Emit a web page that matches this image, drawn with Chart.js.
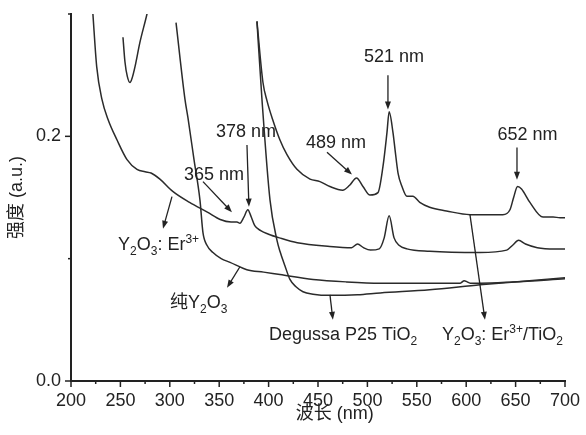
<!DOCTYPE html>
<html>
<head>
<meta charset="utf-8">
<script src="https://cdn.jsdelivr.net/npm/chart.js@4.4.1/dist/chart.umd.min.js"></script>
<style>
  html, body { margin:0; padding:0; background:#fff; }
</style>
</head>
<body>
<canvas id="c" width="586" height="435"></canvas>
<script>
// espectros (nm, intensidad a.u.)
const erX = [222, 226, 231.4, 237.4, 246.6, 256.7, 266.8, 275, 281, 290, 303, 320, 338, 351, 362, 368, 371, 375, 379, 382, 386, 392, 400, 411, 429, 462, 484, 490, 496, 503, 512, 517, 522, 527, 532, 540, 563, 614, 641, 647, 653, 660, 672, 690, 700]
const erY = [0.302, 0.257, 0.230, 0.214, 0.197, 0.181, 0.173, 0.171, 0.170, 0.165, 0.155, 0.146, 0.138, 0.132, 0.130, 0.130, 0.129, 0.134, 0.140, 0.135, 0.127, 0.123, 0.120, 0.117, 0.113, 0.110, 0.109, 0.112, 0.109, 0.107, 0.108, 0.117, 0.135, 0.117, 0.111, 0.108, 0.106, 0.105, 0.107, 0.111, 0.115, 0.112, 0.109, 0.108, 0.108]

const erTiX = [252.6, 254.6, 257, 259.7, 262, 264.8, 269.8, 276.9, 279, 330, 388.2, 394.3, 398.4, 404, 411.5, 418.6, 428.7, 441.9, 452, 462, 475, 482, 489, 495.5, 502.6, 510.7, 515.7, 519.8, 522, 525.9, 528, 531, 535, 540, 546, 553, 563, 580, 604, 625, 637, 644.3, 648, 652, 656, 664.5, 677.7, 688, 695, 700]
const erTiY = [0.281, 0.261, 0.249, 0.244, 0.248, 0.257, 0.277, 0.300, 0.308, null, 0.294, 0.244, 0.229, 0.214, 0.197, 0.185, 0.173, 0.165, 0.163, 0.159, 0.156, 0.160, 0.166, 0.159, 0.152, 0.154, 0.175, 0.203, 0.220, 0.203, 0.189, 0.170, 0.159, 0.151, 0.151, 0.146, 0.142, 0.139, 0.136, 0.136, 0.136, 0.140, 0.150, 0.159, 0.157, 0.146, 0.134, 0.134, 0.1335, 0.1335]

const pureX = [306.3, 315.4, 318.4, 324.5, 330.5, 333.6, 337.6, 343.7, 352, 361, 378, 395, 411.5, 445, 479, 513, 560, 594, 598, 601, 604, 614, 647, 700]
const pureY = [0.293, 0.230, 0.215, 0.181, 0.148, 0.121, 0.111, 0.105, 0.100, 0.097, 0.091, 0.089, 0.087, 0.083, 0.081, 0.080, 0.080, 0.080, 0.082, 0.081, 0.080, 0.080, 0.081, 0.0835]

const p25X = [388.2, 393.3, 401.4, 408.5, 411.5, 416.6, 421.6, 427.7, 434.8, 445, 462, 490, 513, 563, 614, 664, 700]
const p25Y = [0.294, 0.230, 0.148, 0.115, 0.106, 0.094, 0.083, 0.077, 0.073, 0.071, 0.070, 0.0705, 0.072, 0.0745, 0.0786, 0.082, 0.0845]

const xTitle = '波长 (nm)'
const yTitle = '强度 (a.u.)'
const yLabeled = [0, 0.2]

// anotaciones: texto (segmentos con sub/sup) + flecha, en unidades de datos
const notes = [
  { segs: [['521 nm']], at: [527, 0.2604], align: 'center', arrow: [520.8, 0.250, 520.8, 0.222] },
  { segs: [['652 nm']], at: [662, 0.1974], align: 'center', arrow: [651.4, 0.1908, 651.4, 0.1646] },
  { segs: [['489 nm']], at: [468.2, 0.1908], align: 'center', arrow: [459.1, 0.187, 484.4, 0.1687] },
  { segs: [['378 nm']], at: [377.1, 0.1998], align: 'center', arrow: [378.1, 0.193, 380.1, 0.1425] },
  { segs: [['365 nm']], at: [344.7, 0.1646], align: 'center', arrow: [333.6, 0.163, 362.9, 0.138] },
  { segs: [['Y'], ['2', 'sub'], ['O'], ['3', 'sub'], [': Er'], ['3+', 'sup']], at: [247.6, 0.1073], align: 'left', arrow: [302.2, 0.1507, 293.1, 0.1245] },
  { segs: [['纯Y'], ['2', 'sub'], ['O'], ['3', 'sub']], at: [300.2, 0.0598], align: 'left', arrow: [371, 0.0934, 357.9, 0.0762] },
  { segs: [['Degussa P25 TiO'], ['2', 'sub']], at: [400.4, 0.0336], align: 'left', arrow: [462.1, 0.0704, 465.1, 0.050] },
  { segs: [['Y'], ['2', 'sub'], ['O'], ['3', 'sub'], [': Er'], ['3+', 'sup'], ['/TiO'], ['2', 'sub']], at: [575.5, 0.0336], align: 'left', arrow: [603.8, 0.136, 619, 0.050] },
]

const FAM = '"Liberation Sans", Arial, "Noto Sans CJK SC", sans-serif'
const INK = '#222'
const pts = (xs, ys) => xs.map((x, i) => ({ x, y: ys[i] }))

function drawRich(ctx, segs, x, y, align) {
  const fontOf = k => (k ? '12px ' : '18px ') + FAM
  let w = 0
  segs.forEach(([t, k]) => { ctx.font = fontOf(k); w += ctx.measureText(t).width })
  let cx = align === 'center' ? x - w / 2 : x
  ctx.textAlign = 'left'; ctx.textBaseline = 'alphabetic'
  segs.forEach(([t, k]) => {
    ctx.font = fontOf(k)
    const dy = k === 'sub' ? 5 : k === 'sup' ? -7 : 0
    ctx.fillText(t, cx, y + dy)
    cx += ctx.measureText(t).width
  })
}

function drawArrow(ctx, x1, y1, x2, y2) {
  const a = Math.atan2(y2 - y1, x2 - x1), L = 8, W = 3
  ctx.beginPath(); ctx.moveTo(x1, y1); ctx.lineTo(x2 - Math.cos(a) * L * 0.6, y2 - Math.sin(a) * L * 0.6); ctx.stroke()
  ctx.beginPath()
  ctx.moveTo(x2, y2)
  ctx.lineTo(x2 - Math.cos(a) * L + Math.sin(a) * W, y2 - Math.sin(a) * L - Math.cos(a) * W)
  ctx.lineTo(x2 - Math.cos(a) * L - Math.sin(a) * W, y2 - Math.sin(a) * L + Math.cos(a) * W)
  ctx.closePath(); ctx.fill()
}

const decor = {
  id: 'decor',
  afterDraw(chart) {
    const { ctx, chartArea: ca, scales: { x, y } } = chart
    ctx.save()
    ctx.strokeStyle = INK; ctx.fillStyle = INK; ctx.lineWidth = 1.5
    // marcas mayores / menores
    const xs = x.options.ticks.stepSize
    for (let v = x.min; v <= x.max + 1e-9; v += xs / 2) {
      const px = x.getPixelForValue(v), len = Math.abs((v - x.min) % xs) < 1e-9 ? 6 : 3
      ctx.beginPath(); ctx.moveTo(px, ca.bottom); ctx.lineTo(px, ca.bottom + len); ctx.stroke()
    }
    const ys = y.options.ticks.stepSize
    for (let v = y.min; v <= y.max + 1e-9; v += ys) {
      const py = y.getPixelForValue(v)
      const len = yLabeled.some(t => Math.abs(t - v) < 1e-9) ? 6 : 3
      ctx.beginPath(); ctx.moveTo(ca.left, py); ctx.lineTo(ca.left - len, py); ctx.stroke()
    }
    // títulos de ejes
    ctx.font = '18px ' + FAM; ctx.textAlign = 'center'; ctx.textBaseline = 'alphabetic'
    ctx.fillText(xTitle, x.getPixelForValue(467), ca.bottom + 38)
    ctx.save()
    ctx.translate(ca.left - 49, (ca.top + ca.bottom) / 2)
    ctx.rotate(-Math.PI / 2)
    ctx.fillText(yTitle, 0, 0)
    ctx.restore()
    // anotaciones
    ctx.lineWidth = 1.3
    notes.forEach(n => {
      drawRich(ctx, n.segs, x.getPixelForValue(n.at[0]), y.getPixelForValue(n.at[1]), n.align)
      const [a, b, c, d] = n.arrow
      drawArrow(ctx, x.getPixelForValue(a), y.getPixelForValue(b), x.getPixelForValue(c), y.getPixelForValue(d))
    })
    ctx.restore()
  }
}

const line = (label, data) => ({
  label, data, borderColor: '#2b2b2b', borderWidth: 1.5, pointRadius: 0,
  cubicInterpolationMode: 'monotone', spanGaps: false, clip: 0, fill: false,
})

new Chart(document.getElementById('c'), {
  type: 'line',
  data: {
    datasets: [
      line('Y2O3: Er3+', pts(erX, erY)),
      line('Y2O3: Er3+/TiO2', pts(erTiX, erTiY)),
      line('纯Y2O3', pts(pureX, pureY)),
      line('Degussa P25 TiO2', pts(p25X, p25Y)),
    ]
  },
  options: {
    responsive: false, animation: false, devicePixelRatio: 1,
    layout: { padding: { top: 14, right: 21, left: 0, bottom: 0 } },
    plugins: { legend: { display: false }, tooltip: { enabled: false } },
    scales: {
      x: {
        type: 'linear', min: 200, max: 700,
        ticks: { stepSize: 50, autoSkip: false, maxRotation: 0, padding: 9, color: INK, font: { size: 18, family: FAM } },
        grid: { drawOnChartArea: false, drawTicks: false },
        border: { color: INK, width: 2 },
        afterFit: s => { s.height = 54; s.paddingLeft = 0; s.paddingRight = 0 }
      },
      y: {
        min: 0, max: 0.3,
        ticks: {
          stepSize: 0.1, padding: 10, color: INK, font: { size: 18, family: FAM },
          callback: v => yLabeled.some(t => Math.abs(t - v) < 1e-9) ? v.toFixed(1) : ''
        },
        grid: { drawOnChartArea: false, drawTicks: false },
        border: { color: INK, width: 2 },
        afterFit: s => { s.width = 71; s.paddingTop = 0; s.paddingBottom = 0 }
      }
    }
  },
  plugins: [decor]
})
</script>
</body>
</html>
